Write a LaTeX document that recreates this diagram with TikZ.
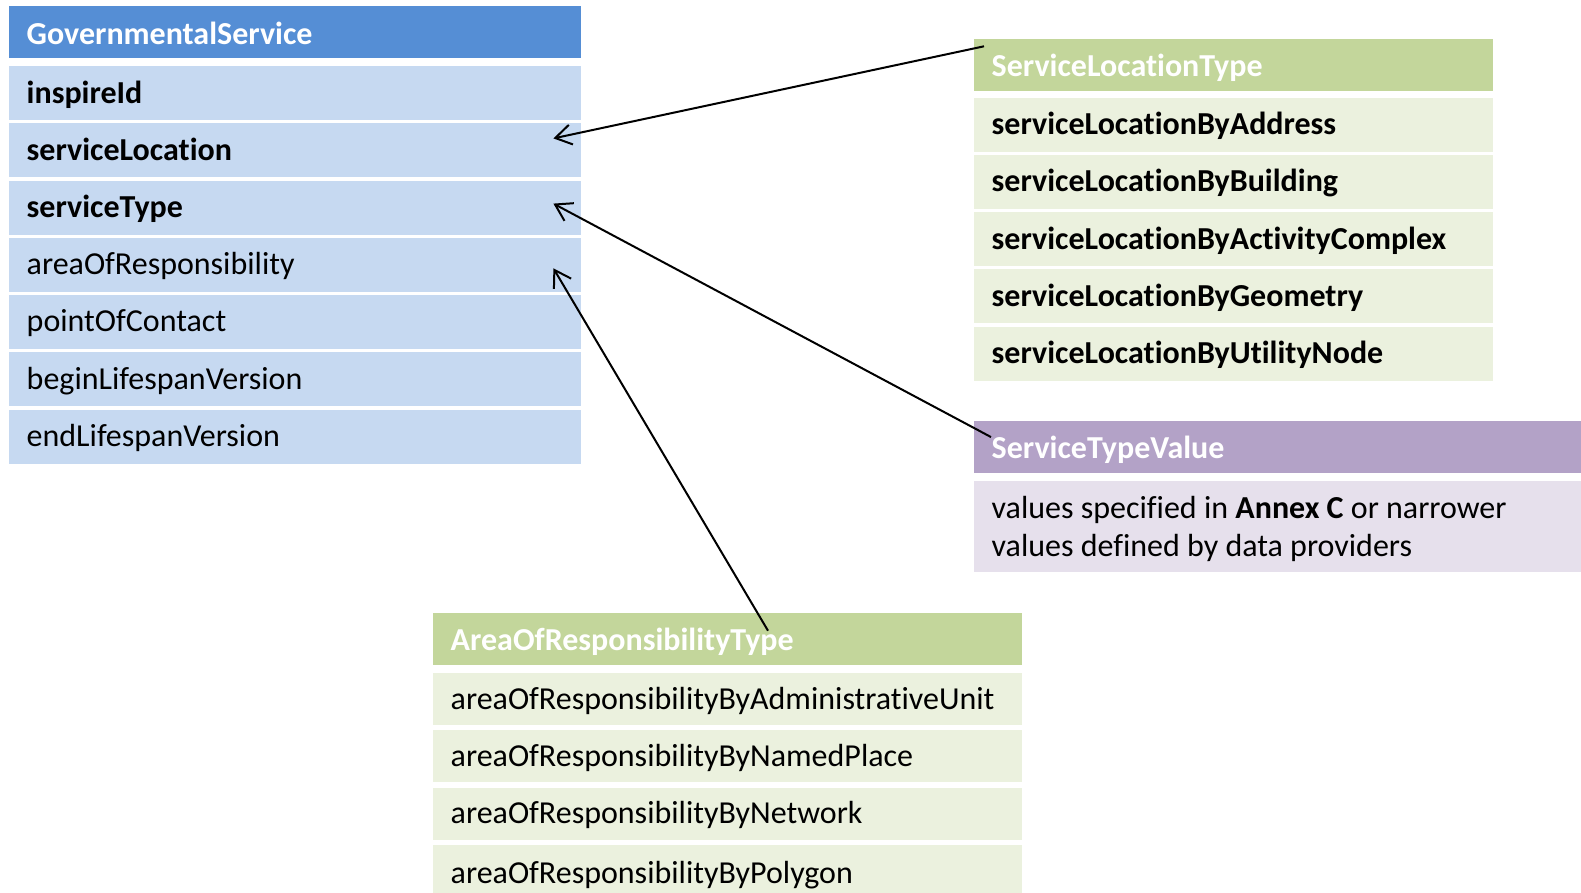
\documentclass[tikz,border=0pt]{standalone}
\usepackage{fontspec}
\setmainfont{Carlito}[Ligatures=NoCommon]
\usetikzlibrary{arrows.meta,calc}
\definecolor{govhead}{HTML}{558ED5}
\definecolor{govrow}{HTML}{C6D9F1}
\definecolor{grnhead}{HTML}{C3D69B}
\definecolor{grnrow}{HTML}{EBF1DE}
\definecolor{purhead}{HTML}{B3A2C7}
\definecolor{purrow}{HTML}{E6E0EC}
\tikzset{
  cell/.style={anchor=north west, draw=none, inner ysep=0pt, inner xsep=17.5pt,
    align=flush left, font=\fontsize{32}{37}\selectfont, text height=26pt, text depth=6pt},
  hdr/.style={cell, text=white, font=\fontsize{32}{37}\selectfont\bfseries, text height=28pt, text depth=4pt},
  bold/.style={font=\fontsize{32}{37}\selectfont\bfseries},
  conn/.style={draw=black, line width=2pt, -{Straight Barb[length=16pt,width=20pt,line width=2pt]}}
}
\begin{document}
\begin{tikzpicture}[x=1pt,y=-1pt]
\clip (0,0) rectangle (1581,892);
\fill[white] (0,0) rectangle (1581,892);
% GovernmentalService
\begin{scope}[every node/.append style={text width=537pt, minimum height=54pt}]
\node[hdr, fill=govhead, minimum height=52pt] (gs) at (9,6) {GovernmentalService};
\node[cell, bold, fill=govrow] (gs1) at (9,66) {inspireId};
\node[cell, bold, fill=govrow] (gs2) at (9,123.2) {serviceLocation};
\node[cell, bold, fill=govrow] (gs3) at (9,180.4) {serviceType};
\node[cell, fill=govrow] (gs4) at (9,237.6) {areaOfResponsibility};
\node[cell, fill=govrow] (gs5) at (9,294.6) {pointOfContact};
\node[cell, fill=govrow] (gs6) at (9,352) {beginLifespanVersion};
\node[cell, fill=govrow] (gs7) at (9,409.3) {endLifespanVersion};
\end{scope}
% ServiceLocationType
\begin{scope}[every node/.append style={text width=484pt, minimum height=54pt}]
\node[hdr, fill=grnhead, minimum height=52pt] (slt) at (974,38.3) {ServiceLocationType};
\node[cell, bold, fill=grnrow] (slt1) at (974,97.3) {serviceLocationByAddress};
\node[cell, bold, fill=grnrow] (slt2) at (974,154.6) {serviceLocationByBuilding};
\node[cell, bold, fill=grnrow] (slt3) at (974,211.9) {serviceLocationByActivityComplex};
\node[cell, bold, fill=grnrow] (slt4) at (974,269.2) {serviceLocationByGeometry};
\node[cell, bold, fill=grnrow] (slt5) at (974,326.6) {serviceLocationByUtilityNode};
\end{scope}
% ServiceTypeValue
\begin{scope}[every node/.append style={text width=572pt}]
\node[hdr, fill=purhead, minimum height=51.7pt, text height=27pt, text depth=5pt] (stv) at (974,421) {ServiceTypeValue};
\node[cell, fill=purrow, minimum height=91pt, text height=16pt, text depth=32pt,
  font=\fontsize{32}{37.4}\selectfont] (stvb) at (974,481)
  {values specified in \textbf{Annex C} or narrower\\values defined by data providers};
\end{scope}
% AreaOfResponsibilityType
\begin{scope}[every node/.append style={text width=554pt, minimum height=52pt}]
\node[hdr, fill=grnhead, minimum height=51.6pt] (aor) at (433,612.7) {AreaOfResponsibilityType};
\node[cell, fill=grnrow] (aor1) at (433,672.8) {areaOfResponsibilityByAdministrativeUnit};
\node[cell, fill=grnrow] (aor2) at (433,730.2) {areaOfResponsibilityByNamedPlace};
\node[cell, fill=grnrow] (aor3) at (433,787.6) {areaOfResponsibilityByNetwork};
\node[cell, fill=grnrow, minimum height=56pt] (aor4) at (433,845) {areaOfResponsibilityByPolygon};
\end{scope}
% connectors
\coordinate (c1s) at ($(slt.north west)+(10,8)$);
\coordinate (c1e) at ($(gs2.east)+(-28,-12)$);
\coordinate (c2s) at ($(stv.west)+(17,-10)$);
\coordinate (c2e) at ($(gs3.east)+(-28,-4)$);
\coordinate (c3s) at ($(aor.north west)+(335,18)$);
\coordinate (c3e) at ($(gs4.east)+(-28,3.5)$);
\draw[conn] (c1s) -- (c1e);
\draw[conn] (c2s) -- (c2e);
\draw[conn] (c3s) -- (c3e);
\end{tikzpicture}
\end{document}
